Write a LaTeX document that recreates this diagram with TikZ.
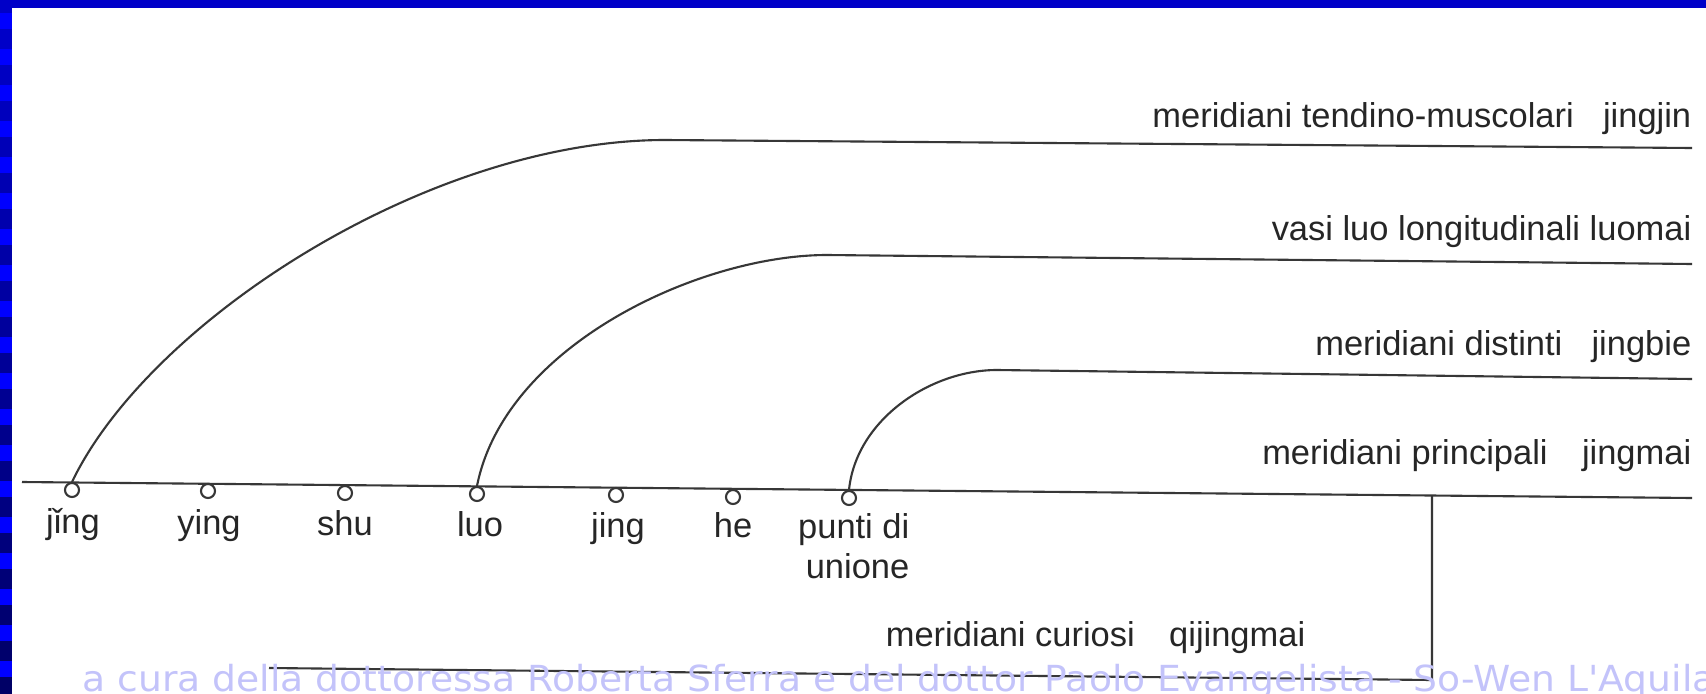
\documentclass[tikz,border=0pt]{standalone}
\usepackage{fontspec}
\setmainfont{Liberation Sans}
\newfontfamily\filigrana[FakeStretch=1.05]{DejaVu Sans}
\usetikzlibrary{positioning}
\definecolor{blusc}{RGB}{0,0,200}
\definecolor{filig}{RGB}{195,195,250}
\definecolor{tratto}{RGB}{55,55,55}

\tikzset{
  linea/.style={draw=tratto, line width=0.6pt},
  punto/.style={circle, draw=tratto, line width=0.6pt, fill=white, minimum size=1.4mm, inner sep=0pt},
  testo/.style={font=\fontsize{9.8}{11.4}\selectfont, text=black!85, inner sep=0pt},
}

\begin{document}
\begin{tikzpicture}[x=0.01cm, y=-0.01cm]
\useasboundingbox (0,0) rectangle (1706,694);
\fill[white] (0,0) rectangle (1706,694);

% cornice blu
\fill[blusc] (0,0) rectangle (1706,8);
\fill[blusc] (0,8) rectangle (12,13);
\foreach \k in {0,...,18} {
  \pgfmathtruncatemacro{\b}{200-5.4*\k}
  \fill[blue] (0,13+36*\k) rectangle (12,29+36*\k);
  \fill[fill={rgb,255:red,0;green,0;blue,\b}] (0,29+36*\k) rectangle (12,49+36*\k);
}

% meridiani principali
\coordinate (mi) at (22,482);
\coordinate (mf) at (1692,498);
\draw[linea] (mi) -- (mf);

\node[punto] (jing1) at (72,490) {};
\node[punto] (ying) at (208,491) {};
\node[punto] (shu) at (345,493) {};
\node[punto] (luo) at (477,494) {};
\node[punto] (jing2) at (616,495) {};
\node[punto] (he) at (733,497) {};
\node[punto] (punti) at (849,498) {};

\node[testo, anchor=base] (tjing1) at (73,533) {jǐng};
\node[testo, anchor=base] (tying) at (209,534) {ying};
\node[testo, anchor=base] (tshu) at (345,535) {shu};
\node[testo, anchor=base] (tluo) at (480,536) {luo};
\node[testo, anchor=base] (tjing2) at (618,537) {jing};
\node[testo, anchor=base] (the) at (733,537) {he};
\node[testo, anchor=north east, align=right] (tpunti) at (910,513) {punti di\\unione};

% rami verso l'alto
\coordinate (jj) at (665,140);
\coordinate (jjf) at (1692,148);
\coordinate (lm) at (827,255);
\coordinate (lmf) at (1692,264);
\coordinate (jb) at (997,370);
\coordinate (jbf) at (1692,379);

\draw[linea] (jing1.north) .. controls (150,320) and (430,140) .. (jj) -- (jjf);
\draw[linea] (luo.north) .. controls (505,345) and (700,255) .. (lm) -- (lmf);
\draw[linea] (punti.north) .. controls (856,420) and (930,370) .. (jb) -- (jbf);

\node[testo, anchor=base east] (tjingjin) at (1692,127) {meridiani tendino-muscolari\hspace{0.85em}jingjin};
\node[testo, anchor=base east] (tluomai) at (1692,240) {vasi luo longitudinali luomai};
\node[testo, anchor=base east] (tjingbie) at (1692,355) {meridiani distinti\hspace{0.85em}jingbie};
\node[testo, anchor=base east] (tjingmai) at (1692,464) {meridiani principali\hspace{1em}jingmai};

% meridiani curiosi
\coordinate (qa) at (1432,495);
\coordinate (qb) at (1432,680);
\coordinate (qc) at (269,668);
\draw[linea] (qa) -- (qb) -- (qc);
\node[testo, anchor=base east] (tqijingmai) at (1306,646) {meridiani curiosi\hspace{1em}qijingmai};

% firma
\node[anchor=base west, inner sep=0pt, text=filig, font=\filigrana\fontsize{10.2}{12}\selectfont] (firma) at (82,691) {a cura della dottoressa Roberta Sferra e del dottor Paolo Evangelista - So-Wen L'Aquila};
\end{tikzpicture}
\end{document}
